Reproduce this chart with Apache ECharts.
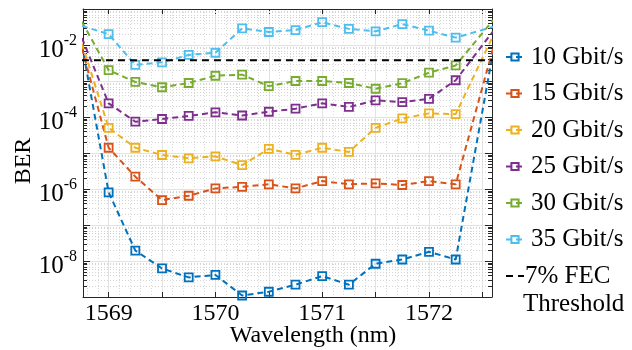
<!DOCTYPE html>
<html>
<head>
<meta charset="utf-8">
<script src="https://cdn.jsdelivr.net/npm/echarts@6/dist/echarts.min.js"></script>
<style>
html,body{margin:0;padding:0;background:#fff;}
#chart{width:632px;height:350px;}
</style>
</head>
<body>
<div id="chart"></div>
<script>
// Wavelength (nm); first and last entries are where the lines leave the plot box
const wavelengths = [1568.75, 1569, 1569.25, 1569.5, 1569.75, 1570, 1570.25, 1570.5, 1570.75, 1571, 1571.25, 1571.5, 1571.75, 1572, 1572.25, 1572.6];

const ber10 = [1.0e-2, 8.1e-7, 1.95e-8, 6.2e-9, 3.5e-9, 4.1e-9, 1.1e-9, 1.4e-9, 2.2e-9, 3.8e-9, 2.2e-9, 8.4e-9, 1.1e-8, 1.8e-8, 1.1e-8, 6.4e-3];
const ber15 = [8.2e-3, 1.4e-5, 2.2e-6, 4.9e-7, 6.5e-7, 1.04e-6, 1.15e-6, 1.35e-6, 1.04e-6, 1.66e-6, 1.35e-6, 1.44e-6, 1.29e-6, 1.66e-6, 1.35e-6, 8.0e-3];
const ber20 = [1.1e-2, 5.0e-5, 1.4e-5, 8.8e-6, 7.1e-6, 8.1e-6, 4.6e-6, 1.3e-5, 8.9e-6, 1.4e-5, 1.07e-5, 5.0e-5, 9.1e-5, 1.26e-4, 1.2e-4, 1.8e-2];
const ber25 = [1.56e-2, 2.4e-4, 7.4e-5, 8.8e-5, 1.07e-4, 1.35e-4, 1.1e-4, 1.4e-4, 1.7e-4, 2.4e-4, 1.9e-4, 2.9e-4, 2.6e-4, 3.2e-4, 1.05e-3, 2.4e-2];
const ber30 = [4.4e-2, 2.0e-3, 9.4e-4, 6.7e-4, 8.8e-4, 1.4e-3, 1.5e-3, 7.2e-4, 1.0e-3, 1.0e-3, 8.8e-4, 6.1e-4, 8.7e-4, 1.7e-3, 2.7e-3, 4.9e-2];
const ber35 = [3.4e-2, 2.0e-2, 2.8e-3, 3.3e-3, 5.3e-3, 6.1e-3, 2.9e-2, 2.3e-2, 2.6e-2, 4.3e-2, 2.8e-2, 2.4e-2, 3.8e-2, 2.5e-2, 1.6e-2, 3.2e-2];

const seriesNames = ['10 Gbit/s', '15 Gbit/s', '20 Gbit/s', '25 Gbit/s', '30 Gbit/s', '35 Gbit/s'];
const fecName = '7% FEC';
const fecName2 = 'Threshold';
const fecLevel = 3.8e-3;
const xAxisTitle = 'Wavelength (nm)';
const yAxisTitle = 'BER';

const xMin = 1568.76, xMax = 1572.59;
const yMin = 1e-9, yMax = 1e-1;

// minor log tick positions (2..9 within each decade)
const minorYTicks = [];
for (let e = -9; e <= -2; e++) {
  for (let m = 2; m <= 9; m++) minorYTicks.push(m * Math.pow(10, e));
}

const colors = ['#0072BD', '#D95319', '#EDB120', '#7E2F8E', '#77AC30', '#4DBEEE'];
const FONT = 'Liberation Serif';
const allSeries = [ber10, ber15, ber20, ber25, ber30, ber35];

function lineSeries(name, vals, color) {
  const last = vals.length - 1;
  return {
    name: name,
    type: 'line',
    z: 3,
    clip: true,
    symbol: 'rect',
    symbolSize: 8,
    showAllSymbol: true,
    data: wavelengths.map((w, i) => (i === 0 || i === last)
      ? { value: [w, vals[i]], symbol: 'none' }
      : { value: [w, vals[i]] }),
    lineStyle: { color: color, width: 2, type: [6, 4] },
    itemStyle: { color: 'rgba(255,255,255,0)', borderColor: color, borderWidth: 1.8 },
    emphasis: { disabled: true },
    animation: false
  };
}

const series = allSeries.map((v, i) => lineSeries(seriesNames[i], v, colors[i]));

series.push({
  name: fecName,
  type: 'line',
  z: 4,
  symbol: 'none',
  data: [[wavelengths[0], fecLevel], [wavelengths[wavelengths.length - 1], fecLevel]],
  lineStyle: { color: '#000', width: 2, type: [7, 5] },
  itemStyle: { color: '#000' },
  emphasis: { disabled: true },
  animation: false
});

// minor log grid + minor ticks on left/right
series.push({
  type: 'custom',
  z: 1,
  silent: true,
  animation: false,
  data: minorYTicks.map(v => [xMin, v]),
  renderItem: function (params, api) {
    const cs = params.coordSys;
    const y = Math.round(api.coord([xMin, api.value(1)])[1]) + 0.5;
    return {
      type: 'group',
      children: [
        { type: 'line', shape: { x1: cs.x, y1: y, x2: cs.x + cs.width, y2: y },
          style: { stroke: '#d4d4d4', lineWidth: 1, lineDash: [1, 2] } },
        { type: 'line', shape: { x1: cs.x, y1: y, x2: cs.x + 4, y2: y },
          style: { stroke: '#262626', lineWidth: 1 } },
        { type: 'line', shape: { x1: cs.x + cs.width - 4, y1: y, x2: cs.x + cs.width, y2: y },
          style: { stroke: '#262626', lineWidth: 1 } }
      ]
    };
  }
});

const axisLineStyle = { color: '#262626', width: 1 };

const option = {
  backgroundColor: '#fff',
  animation: false,
  grid: { left: 83, right: 140, top: 9, bottom: 53, containLabel: false },
  xAxis: [{
    type: 'value',
    min: xMin, max: xMax,
    splitNumber: 8,
    position: 'bottom',
    axisLine: { show: true, onZero: false, lineStyle: axisLineStyle },
    axisTick: { show: true, inside: true, length: 5, lineStyle: axisLineStyle },
    axisLabel: {
      fontFamily: FONT, fontSize: 24, color: '#000', margin: 5,
      showMinLabel: false, showMaxLabel: false,
      formatter: v => (Math.abs(v - Math.round(v)) < 1e-6 ? String(Math.round(v)) : '')
    },
    splitLine: { show: true, lineStyle: { color: '#e3e3e3', width: 1 } },
    minorTick: { show: false, splitNumber: 5 },
    minorSplitLine: { show: true, lineStyle: { color: '#dadada', width: 1, type: [1, 2] } }
  }, {
    type: 'value',
    min: xMin, max: xMax,
    splitNumber: 8,
    position: 'top',
    axisLine: { show: true, onZero: false, lineStyle: axisLineStyle },
    axisTick: { show: true, inside: true, length: 5, lineStyle: axisLineStyle },
    axisLabel: { show: false },
    splitLine: { show: false }
  }],
  yAxis: [{
    type: 'log',
    logBase: 10,
    min: yMin, max: yMax,
    splitNumber: 8,
    position: 'left',
    axisLine: { show: true, onZero: false, lineStyle: axisLineStyle },
    axisTick: { show: true, inside: true, length: 7, lineStyle: axisLineStyle },
    axisLabel: {
      margin: 6,
      formatter: function (v) {
        const e = Math.round(Math.log10(v));
        if (e % 2 !== 0 || e === -1 || e === -9) return '';
        return '{b|10}{s|' + e + '}';
      },
      rich: {
        b: { fontFamily: FONT, fontSize: 25, color: '#000', lineHeight: 30, verticalAlign: 'bottom', padding: [0, 0, -3, 0] },
        s: { fontFamily: FONT, fontSize: 16, color: '#000', lineHeight: 30, verticalAlign: 'top', padding: [3, 0, 0, 0] }
      }
    },
    splitLine: { show: true, lineStyle: { color: '#e3e3e3', width: 1 } }
  }, {
    type: 'log',
    logBase: 10,
    min: yMin, max: yMax,
    splitNumber: 8,
    position: 'right',
    axisLine: { show: true, onZero: false, lineStyle: axisLineStyle },
    axisTick: { show: true, inside: true, length: 7, lineStyle: axisLineStyle },
    axisLabel: { show: false },
    splitLine: { show: false }
  }],
  legend: {
    orient: 'vertical',
    left: 500,
    top: 37,
    itemWidth: 18,
    itemHeight: 9,
    itemGap: 6.5,
    selectedMode: false,
    data: seriesNames.map(n => ({ name: n })).concat([
      { name: fecName, itemStyle: { color: 'rgba(0,0,0,0)', borderWidth: 0, opacity: 0 },
        textStyle: { fontFamily: FONT, fontSize: 25, color: '#000', lineHeight: 30, padding: [0, 0, 0, -4] } }
    ]),
    textStyle: { fontFamily: FONT, fontSize: 25, color: '#000', lineHeight: 30, padding: [0, 0, 0, 2] }
  },
  graphic: [{
    type: 'text',
    left: 523,
    top: 292,
    style: { text: fecName2, fontFamily: FONT, fontSize: 25, fill: '#000' }
  }, {
    type: 'text',
    x: 313,
    y: 336,
    style: { text: xAxisTitle, fontFamily: FONT, fontSize: 24, fill: '#000', align: 'center', verticalAlign: 'middle' }
  }, {
    type: 'text',
    x: 24,
    y: 161,
    rotation: Math.PI / 2,
    style: { text: yAxisTitle, fontFamily: FONT, fontSize: 24, fill: '#000', align: 'center', verticalAlign: 'middle' }
  }],
  series: series
};

const chart = echarts.init(document.getElementById('chart'), null, { renderer: 'canvas' });
chart.setOption(option);
</script>
</body>
</html>
